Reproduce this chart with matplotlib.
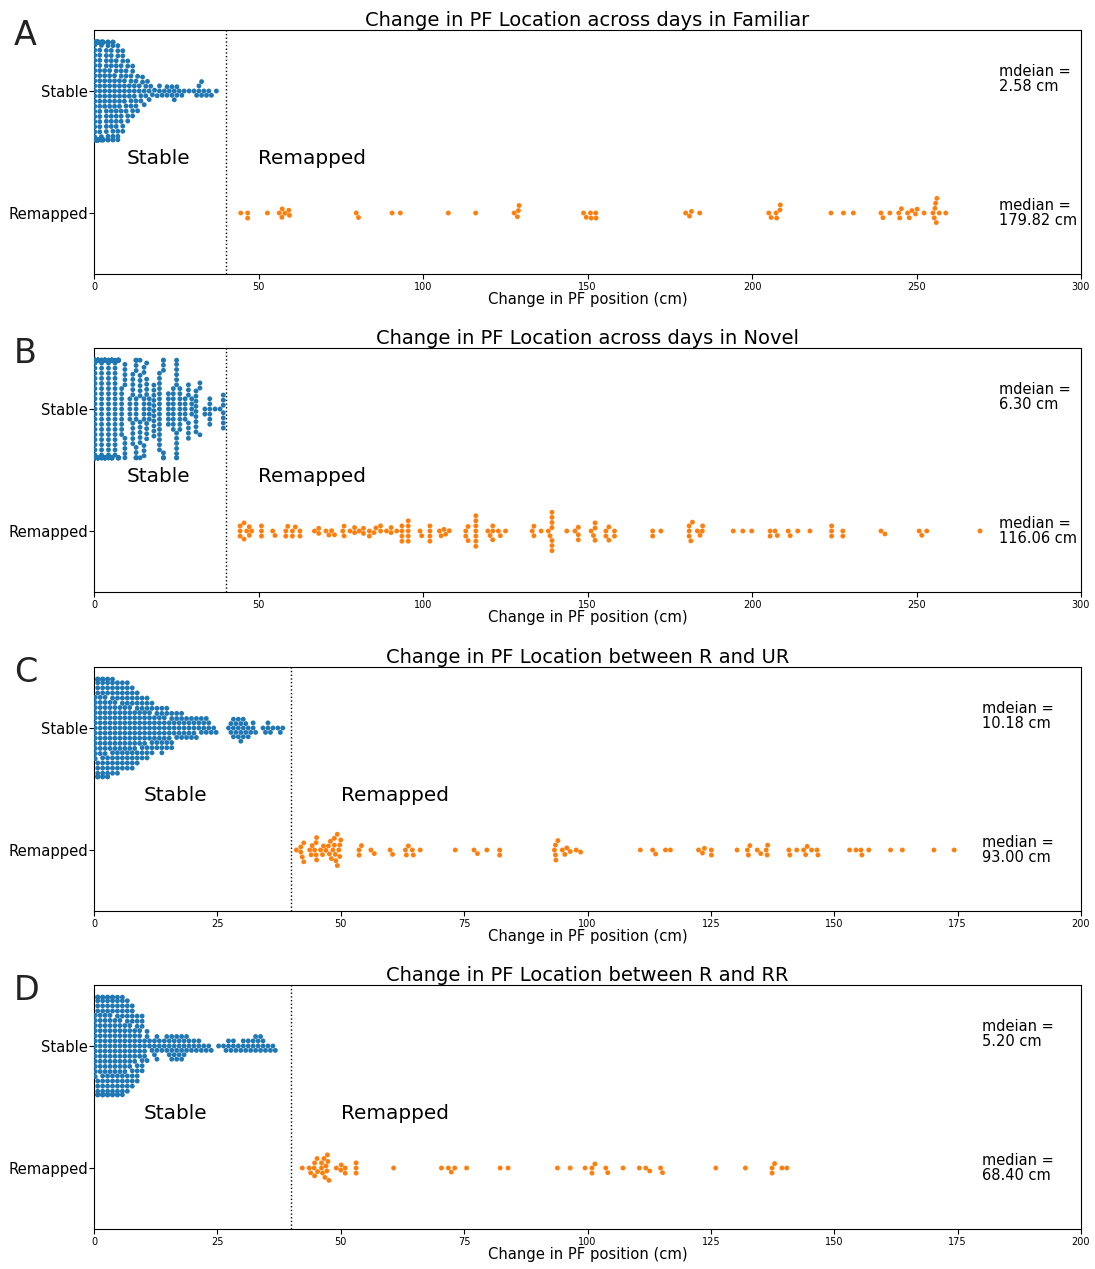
import warnings
import numpy as np
import pandas as pd
import seaborn as sns
import matplotlib
matplotlib.use("Agg")
import matplotlib.pyplot as plt

warnings.filterwarnings("ignore")

# ---- Familiar (A) ----
stable_vals_a = [0.25, 0.75, 1.25, 1.75, 2.25, 2.75, 3.25, 3.75, 4.25, 4.75, 5.25, 5.75,
                 6.25, 6.75, 7.25, 7.75, 8.25, 8.75, 9.25, 9.75, 10.25, 10.75, 11.25, 11.75,
                 12.25, 12.75, 13.25, 13.75, 14.25, 14.75, 15.25, 15.75, 16.25, 16.75, 17.25,
                 17.75, 18.4, 19.2, 19.9, 20.7, 21.4, 22.2, 22.9, 23.7, 24.4, 25.2, 25.9,
                 26.7, 27.4, 28.9, 30.4, 31.2, 31.9, 32.7, 33.4, 34.2, 34.9, 35.7, 37.2]
stable_counts_a = [27, 25, 20, 17, 12, 9, 8, 9, 9, 8, 8, 8,
                   7, 7, 6, 6, 6, 5, 5, 4, 4, 3, 4, 4,
                   3, 3, 2, 2, 2, 2, 2, 2, 1, 2, 1,
                   1, 1, 1, 2, 1, 1, 2, 1, 2, 2, 2, 1,
                   1, 1, 1, 1, 1, 2, 2, 1, 1, 1, 1, 1]
remapped_a = [44.6, 46.7, 46.7, 52.7, 56.3, 57.1, 57.2, 58.0, 59.2, 59.4, 79.7, 80.4, 90.6,
              93.1, 107.7, 116.0, 127.7, 128.7, 129.0, 129.2, 148.8, 149.6, 150.9, 151.1,
              152.5, 152.6, 179.82, 181.0, 181.6, 184.1, 205.1, 205.8, 207.3, 207.5, 208.5,
              208.6, 224.0, 227.8, 230.8, 239.2, 239.8, 241.9, 244.6, 244.9, 245.4, 247.3,
              247.8, 248.6, 249.7, 250.2, 252.3, 255.0, 255.4, 255.6, 255.8, 256.0, 256.2,
              256.9, 258.9]

# ---- Novel (B) ----
stable_vals_b = [0.3, 1.2, 2.3, 3.3, 4.4, 5.4, 6.4, 7.4, 8.4, 9.4, 10.9, 11.8, 12.8, 14.0,
                 15.2, 16.0, 16.8, 18.2, 19.9, 21.1, 22.6, 24.1, 25.1, 26.1, 27.7, 28.7,
                 29.7, 31.0, 32.2, 33.7, 35.2, 36.8, 38.3, 39.3]
stable_counts_b = [40, 30, 28, 26, 24, 19, 20, 16, 10, 10, 5, 10, 15, 12,
                   10, 9, 5, 11, 16, 8, 7, 9, 13, 9, 5, 7,
                   4, 9, 3, 2, 6, 1, 1, 7]
remapped_b = [44.4, 44.4, 44.4, 45.6, 45.6, 46.4, 47.2, 47.2, 47.9, 50.9, 50.9, 50.9, 54.3,
              55.0, 58.3, 58.3, 58.9, 60.3, 60.3, 61.2, 62.6, 62.6, 67.0, 68.3, 68.3, 70.5,
              71.4, 72.2, 73.1, 75.6, 76.0, 76.0, 77.8, 79.2, 79.2, 80.6, 81.9, 81.9, 83.7,
              83.7, 85.1, 85.7, 87.1, 87.1, 88.9, 90.3, 90.3, 92.0, 93.6, 93.6, 93.6, 93.6,
              95.5, 95.5, 95.5, 95.5, 95.5, 99.1, 99.6, 102.1, 102.1, 102.1, 102.1, 105.0,
              105.5, 106.4, 106.9, 108.0, 113.0, 113.0, 113.7, 113.7, 116.06, 116.06, 116.06,
              116.06, 116.06, 116.06, 116.06, 119.7, 120.4, 121.2, 121.2, 121.2, 122.9, 123.5,
              125.1, 133.2, 133.7, 133.7, 135.9, 138.1, 138.6, 139.2, 139.2, 139.2, 139.2,
              139.2, 139.2, 139.2, 143.7, 146.2, 147.2, 147.2, 147.2, 151.1, 151.8, 152.3,
              152.3, 152.3, 155.6, 155.6, 156.5, 156.5, 158.2, 158.2, 169.8, 169.8, 172.3,
              180.9, 180.9, 180.9, 181.4, 181.9, 183.4, 184.2, 184.9, 185.0, 194.3, 197.2,
              199.9, 205.5, 205.5, 207.0, 207.7, 211.0, 211.6, 213.9, 217.6, 224.2, 224.2,
              224.2, 227.6, 227.6, 239.2, 240.4, 250.8, 251.6, 253.1, 269.3]

# ---- R vs UR (C), half-centimetre bins ----
stable_vals_c = [0.25, 0.75, 1.25, 1.75, 2.25, 2.75, 3.25, 3.75, 4.25, 4.75, 5.25, 5.75,
                 6.25, 6.75, 7.25, 7.75, 8.25, 8.75, 9.25, 9.75, 10.25, 10.75, 11.25, 11.75,
                 12.25, 12.75, 13.25, 13.75, 14.25, 14.75, 15.25, 15.75, 16.25, 16.75, 17.25,
                 17.75, 18.25, 18.75, 19.25, 19.75, 20.25, 20.75, 21.25, 21.75, 22.25, 22.75,
                 23.25, 23.75, 24.25, 24.75, 27.25, 27.75, 28.25, 28.75, 29.25, 29.75, 30.25,
                 30.75, 31.25, 31.75, 32.25, 32.75, 34.25, 34.75, 35.25, 35.75, 36.25, 37.25,
                 37.75, 38.25]
stable_counts_c = [13, 13, 12, 12, 12, 11, 10, 10, 10, 9, 9, 9,
                   9, 9, 9, 8, 8, 7, 7, 6, 7, 6, 6, 5,
                   5, 4, 5, 5, 5, 4, 4, 4, 3, 3, 3,
                   3, 3, 2, 3, 2, 3, 2, 2, 2, 2, 2,
                   2, 1, 1, 1, 1, 2, 3, 2, 3, 3, 3,
                   2, 2, 1, 2, 1, 1, 1, 2, 1, 1, 1,
                   1, 1]
remapped_c = [41.0, 41.9, 41.9, 42.2, 42.5, 42.5, 43.7, 44.0, 44.2, 44.7, 45.0, 45.0, 45.1,
              45.1, 45.9, 46.3, 46.5, 47.0, 47.5, 47.7, 47.9, 48.1, 48.4, 48.7, 48.7, 48.9,
              49.0, 49.3, 49.3, 49.6, 49.8, 49.8, 50.0, 53.7, 53.7, 54.2, 56.1, 56.8, 60.0,
              60.5, 63.1, 63.3, 63.7, 64.5, 64.7, 66.1, 73.2, 77.0, 77.7, 79.6, 82.2, 82.2,
              93.3, 93.5, 93.5, 93.6, 94.0, 94.9, 95.4, 95.8, 96.5, 97.7, 98.6, 110.7, 113.2,
              113.8, 115.8, 116.8, 122.5, 123.3, 123.7, 125.1, 125.1, 130.3, 132.4, 132.6,
              132.9, 134.4, 135.1, 136.2, 136.4, 136.5, 140.8, 141.0, 142.4, 143.8, 144.2,
              144.5, 145.4, 146.5, 146.7, 153.1, 154.4, 155.4, 155.6, 157.0, 161.4, 163.8,
              170.2, 174.3]

# ---- R vs RR (D), half-centimetre bins ----
stable_vals_d = [0.25, 0.75, 1.25, 1.75, 2.25, 2.75, 3.25, 3.75, 4.25, 4.75, 5.25, 5.75,
                 6.25, 6.75, 7.25, 7.75, 8.25, 8.75, 9.25, 9.75, 10.25, 10.75, 11.25, 11.75,
                 12.25, 12.75, 13.25, 13.75, 14.25, 14.75, 15.25, 15.75, 16.25, 16.75, 17.25,
                 17.75, 18.25, 18.75, 19.25, 19.75, 20.25, 20.75, 21.25, 21.75, 22.25, 22.75,
                 23.25, 23.75, 25.25, 26.25, 26.75, 27.25, 27.75, 28.25, 28.75, 29.25, 29.75,
                 30.25, 30.75, 31.25, 31.75, 32.25, 32.75, 33.25, 33.75, 34.25, 34.75, 35.25,
                 35.75, 36.25, 36.75]
stable_counts_d = [13, 12, 12, 12, 12, 12, 12, 11, 11, 11, 11, 10,
                   10, 9, 9, 8, 7, 7, 6, 6, 4, 3, 2, 1,
                   3, 3, 2, 1, 2, 2, 3, 3, 3, 3, 3,
                   3, 3, 2, 2, 1, 2, 1, 2, 1, 1, 1,
                   1, 1, 1, 1, 1, 2, 1, 2, 1, 1, 1,
                   2, 1, 2, 1, 2, 2, 2, 2, 2, 1, 1,
                   1, 1, 1]
remapped_d = [42.2, 43.6, 43.9, 44.6, 44.7, 44.7, 45.2, 45.3, 46.1, 46.1, 46.3, 46.6, 46.8,
              47.0, 47.2, 47.3, 47.4, 47.6, 49.1, 50.0, 50.1, 50.9, 50.9, 53.1, 53.1, 53.1,
              60.7, 70.4, 71.8, 72.4, 73.1, 75.5, 82.3, 83.9, 93.9, 96.5, 99.5, 100.9, 100.9,
              101.5, 103.7, 104.1, 107.2, 110.5, 111.8, 112.6, 114.8, 115.2, 126.0, 132.0,
              137.4, 137.4, 137.9, 139.4, 140.4]

titles = ["Change in PF Location across days in Familiar",
          "Change in PF Location across days in Novel",
          "Change in PF Location between R and UR",
          "Change in PF Location between R and RR"]
letters = ["A", "B", "C", "D"]
stable_medians = ["2.58", "6.30", "10.18", "5.20"]
remapped_medians = ["179.82", "116.06", "93.00", "68.40"]
xmax = [300, 300, 200, 200]
xstep = [50, 50, 25, 25]
threshold = 40

panels = [
    (np.repeat(stable_vals_a, stable_counts_a), remapped_a),
    (np.repeat(stable_vals_b, stable_counts_b), remapped_b),
    (np.repeat(stable_vals_c, stable_counts_c), remapped_c),
    (np.repeat(stable_vals_d, stable_counts_d), remapped_d),
]

fig = plt.figure(figsize=(10.95, 12.69), dpi=100)
W, H = 1095, 1269
tops = [30, 348, 667, 985]
ax_h = 244

for i, (stable, remapped) in enumerate(panels):
    top = tops[i]
    ax = fig.add_axes([94 / W, 1 - (top + ax_h) / H, 987 / W, ax_h / H])
    df = pd.DataFrame({
        "change": np.concatenate([stable, remapped]),
        "group": ["Stable"] * len(stable) + ["Remapped"] * len(remapped),
    })
    sns.swarmplot(data=df, x="change", y="group", hue="group",
                  order=["Stable", "Remapped"], hue_order=["Stable", "Remapped"],
                  palette=["#1f77b4", "#ff7f0e"], size=3.5, legend=False, ax=ax)
    ax.axvline(threshold, color="k", linestyle=":", linewidth=1)
    ax.set_xlim(0, xmax[i])
    ax.set_ylim(1.5, -0.5)
    ax.set_xticks(np.arange(0, xmax[i] + 1, xstep[i]))
    ax.tick_params(axis="x", labelsize=7, pad=2.5)
    ax.tick_params(axis="y", labelsize=10.6, pad=1)
    ax.set_xlabel("Change in PF position (cm)", fontsize=10.6, labelpad=0)
    ax.set_ylabel("")
    ax.set_title(titles[i], fontsize=14, pad=3)

    ax.text(10, 0.6, "Stable", fontsize=14.4)
    ax.text(50, 0.6, "Remapped", fontsize=14.4)
    xm = 275 if xmax[i] == 300 else 180
    ax.text(xm, -0.1, "mdeian =\n" + stable_medians[i] + " cm", fontsize=10.5,
            va="center", linespacing=1.0)
    ax.text(xm, 1.0, "median =\n" + remapped_medians[i] + " cm", fontsize=10.5,
            va="center", linespacing=1.0)
    ax.text(-0.081, 0.9385, letters[i], transform=ax.transAxes, fontsize=24,
            va="baseline", color="#222222")

fig.savefig("out.png", dpi=100)
